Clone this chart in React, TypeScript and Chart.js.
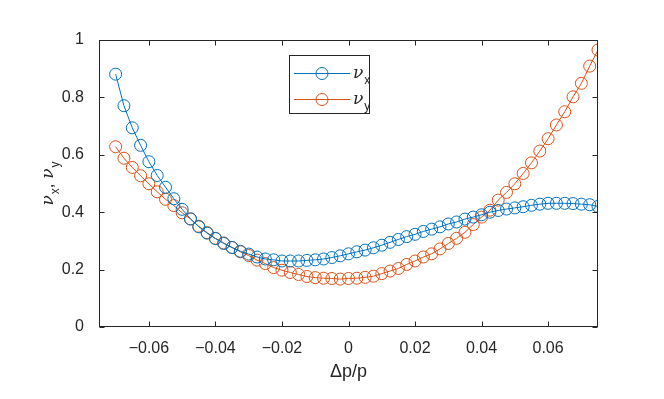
import React, { useEffect, useRef } from "react";
import { Chart, registerables } from "chart.js";

Chart.register(...registerables);

// Δp/p sample points
const dpValues = [
  -0.07, -0.0675, -0.065, -0.0625, -0.06, -0.0575, -0.055, -0.0525, -0.05, -0.0475,
  -0.045, -0.0425, -0.04, -0.0375, -0.035, -0.0325, -0.03, -0.0275, -0.025, -0.0225,
  -0.02, -0.0175, -0.015, -0.0125, -0.01, -0.0075, -0.005, -0.0025, 0, 0.0025,
  0.005, 0.0075, 0.01, 0.0125, 0.015, 0.0175, 0.02, 0.0225, 0.025, 0.0275,
  0.03, 0.0325, 0.035, 0.0375, 0.04, 0.0425, 0.045, 0.0475, 0.05, 0.0525,
  0.055, 0.0575, 0.06, 0.0625, 0.065, 0.0675, 0.07, 0.0725, 0.075,
];

const nuX = [
  0.881, 0.771, 0.694, 0.633, 0.576, 0.528, 0.487, 0.447, 0.41, 0.377,
  0.349, 0.327, 0.308, 0.291, 0.277, 0.264, 0.254, 0.244, 0.237, 0.234,
  0.23, 0.23, 0.23, 0.232, 0.234, 0.237, 0.242, 0.248, 0.255, 0.262,
  0.268, 0.276, 0.285, 0.295, 0.305, 0.315, 0.323, 0.333, 0.341, 0.349,
  0.359, 0.366, 0.376, 0.383, 0.391, 0.4, 0.406, 0.411, 0.415, 0.419,
  0.424, 0.428, 0.431, 0.431, 0.431, 0.43, 0.428, 0.426, 0.42,
];

const nuY = [
  0.628, 0.588, 0.556, 0.527, 0.499, 0.471, 0.445, 0.423, 0.398, 0.376,
  0.351, 0.329, 0.309, 0.293, 0.277, 0.262, 0.249, 0.233, 0.221, 0.207,
  0.198, 0.19, 0.183, 0.176, 0.172, 0.17, 0.169, 0.167, 0.169, 0.17,
  0.173, 0.177, 0.186, 0.195, 0.204, 0.218, 0.23, 0.244, 0.255, 0.272,
  0.291, 0.309, 0.33, 0.357, 0.383, 0.407, 0.442, 0.469, 0.499, 0.535,
  0.572, 0.613, 0.656, 0.704, 0.75, 0.802, 0.849, 0.909, 0.965,
];

const xTicks = [-0.06, -0.04, -0.02, 0, 0.02, 0.04, 0.06];
const xTickLabels = ["\u22120.06", "\u22120.04", "\u22120.02", "0", "0.02", "0.04", "0.06"];
const yTicks = [0, 0.2, 0.4, 0.6, 0.8, 1];
const yTickLabels = ["0", "0.2", "0.4", "0.6", "0.8", "1"];
const seriesSubs = ["x", "y"];
const seriesColors = ["#0072BD", "#D95319"];
const xTitle = "Δp/p";
const nuChar = "ν";

const AXIS_COLOR = "#262626";
const FONT = "'Liberation Sans', Arial, Helvetica, sans-serif";
const NU_FONT = "italic 17px 'DejaVu Serif', serif";

function drawNuLabel(ctx: CanvasRenderingContext2D, x: number, y: number, sub: string) {
  ctx.font = NU_FONT;
  ctx.fillText(nuChar, x, y);
  const w = ctx.measureText(nuChar).width;
  ctx.font = `12px ${FONT}`;
  ctx.fillText(sub, x + w + 1, y + 6);
  return w + 1 + ctx.measureText(sub).width;
}

const framePlugin = {
  id: "matlabFrame",
  afterDatasetsDraw(chart: any) {
    const { ctx, chartArea } = chart;
    const { left, right, top, bottom } = chartArea;
    const xs = chart.scales.x;
    const ys = chart.scales.y;
    ctx.save();
    ctx.strokeStyle = AXIS_COLOR;
    ctx.lineWidth = 1;
    const L = Math.round(left) + 0.5;
    const R = Math.round(right) - 0.5;
    const T = Math.round(top) + 0.5;
    const B = Math.round(bottom) - 0.5;
    ctx.strokeRect(L, T, R - L, B - T);
    const tl = 5;
    ctx.beginPath();
    xTicks.forEach((v) => {
      const px = Math.round(xs.getPixelForValue(v)) + 0.5;
      ctx.moveTo(px, B);
      ctx.lineTo(px, B - tl);
      ctx.moveTo(px, T);
      ctx.lineTo(px, T + tl);
    });
    yTicks.forEach((v) => {
      const py = Math.round(ys.getPixelForValue(v)) + 0.5;
      ctx.moveTo(L, py);
      ctx.lineTo(L + tl, py);
      ctx.moveTo(R, py);
      ctx.lineTo(R - tl, py);
    });
    ctx.stroke();

    // x axis title
    ctx.fillStyle = AXIS_COLOR;
    ctx.font = `18px ${FONT}`;
    ctx.textAlign = "center";
    ctx.textBaseline = "middle";
    ctx.fillText(xTitle, (left + right) / 2, 372);

    // y axis title (rotated)
    ctx.save();
    ctx.translate(53, (top + bottom) / 2);
    ctx.rotate(-Math.PI / 2);
    ctx.textAlign = "left";
    ctx.textBaseline = "alphabetic";
    ctx.font = NU_FONT;
    const nw = ctx.measureText(nuChar).width;
    ctx.font = `12px ${FONT}`;
    const sw1 = ctx.measureText(seriesSubs[0]).width;
    const sw2 = ctx.measureText(seriesSubs[1]).width;
    ctx.font = `17px ${FONT}`;
    const cw = ctx.measureText(", ").width;
    const total = nw * 2 + sw1 + sw2 + cw + 2;
    let cx = -total / 2;
    cx += drawNuLabel(ctx, cx, 0, seriesSubs[0]);
    ctx.font = `17px ${FONT}`;
    ctx.fillText(",", cx, 0);
    cx += cw;
    drawNuLabel(ctx, cx, 0, seriesSubs[1]);
    ctx.restore();

    // legend
    const bx = 289.5, by = 55.5, bw = 80, bh = 58;
    ctx.fillStyle = "#ffffff";
    ctx.fillRect(bx, by, bw, bh);
    ctx.strokeStyle = AXIS_COLOR;
    ctx.strokeRect(bx, by, bw, bh);
    const rows = [73.5, 99.5];
    chart.data.datasets.forEach((ds: any, i: number) => {
      const ry = rows[i];
      ctx.strokeStyle = ds.borderColor;
      ctx.lineWidth = 1;
      ctx.beginPath();
      ctx.moveTo(294, ry);
      ctx.lineTo(350, ry);
      ctx.stroke();
      ctx.beginPath();
      ctx.arc(322, ry, 6, 0, Math.PI * 2);
      ctx.stroke();
      ctx.fillStyle = AXIS_COLOR;
      ctx.textAlign = "left";
      ctx.textBaseline = "alphabetic";
      drawNuLabel(ctx, 353, ry + 4, seriesSubs[i]);
    });
    ctx.restore();
  },
};

export default function App() {
  const canvasRef = useRef<HTMLCanvasElement | null>(null);

  useEffect(() => {
    const canvas = canvasRef.current;
    if (!canvas) return;
    const makeData = (ys: number[]) => dpValues.map((x, i) => ({ x, y: ys[i] }));
    const chart = new Chart(canvas, {
      type: "line",
      data: {
        datasets: [nuX, nuY].map((arr, i) => ({
          label: nuChar + seriesSubs[i],
          data: makeData(arr),
          borderColor: seriesColors[i],
          backgroundColor: "rgba(0,0,0,0)",
          borderWidth: 1,
          pointRadius: 6,
          pointHoverRadius: 6,
          pointBorderWidth: 1,
          pointBackgroundColor: "rgba(0,0,0,0)",
          pointBorderColor: seriesColors[i],
          tension: 0,
          fill: false,
        })),
      },
      options: {
        responsive: false,
        animation: false,
        devicePixelRatio: 1,
        layout: { padding: { top: 40, right: 66, left: 0, bottom: 0 } },
        plugins: {
          legend: { display: false },
          tooltip: { enabled: false },
        },
        scales: {
          x: {
            type: "linear",
            min: -0.075,
            max: 0.075,
            grid: { display: false },
            border: { display: false },
            afterBuildTicks: (scale: any) => {
              scale.ticks = xTicks.map((v) => ({ value: v }));
            },
            afterFit: (scale: any) => {
              scale.height = 72;
            },
            ticks: {
              color: AXIS_COLOR,
              font: { family: FONT, size: 16 },
              padding: 4,
              maxRotation: 0,
              autoSkip: false,
              callback: (v: any) => {
                const idx = xTicks.findIndex((t) => Math.abs(t - Number(v)) < 1e-9);
                return idx >= 0 ? xTickLabels[idx] : "";
              },
            },
          },
          y: {
            type: "linear",
            min: 0,
            max: 1,
            grid: { display: false },
            border: { display: false },
            afterBuildTicks: (scale: any) => {
              scale.ticks = yTicks.map((v) => ({ value: v }));
            },
            afterFit: (scale: any) => {
              scale.width = 99;
            },
            ticks: {
              color: AXIS_COLOR,
              font: { family: FONT, size: 16 },
              padding: 7,
              autoSkip: false,
              callback: (v: any) => {
                const idx = yTicks.findIndex((t) => Math.abs(t - Number(v)) < 1e-9);
                return idx >= 0 ? yTickLabels[idx] : "";
              },
            },
          },
        },
      },
      plugins: [framePlugin],
    } as any);
    return () => chart.destroy();
  }, []);

  return (
    <div style={{ position: "absolute", left: 0, top: 0, width: 664, height: 399, background: "#fff" }}>
      <canvas ref={canvasRef} width={664} height={399} style={{ width: 664, height: 399 }} />
    </div>
  );
}
